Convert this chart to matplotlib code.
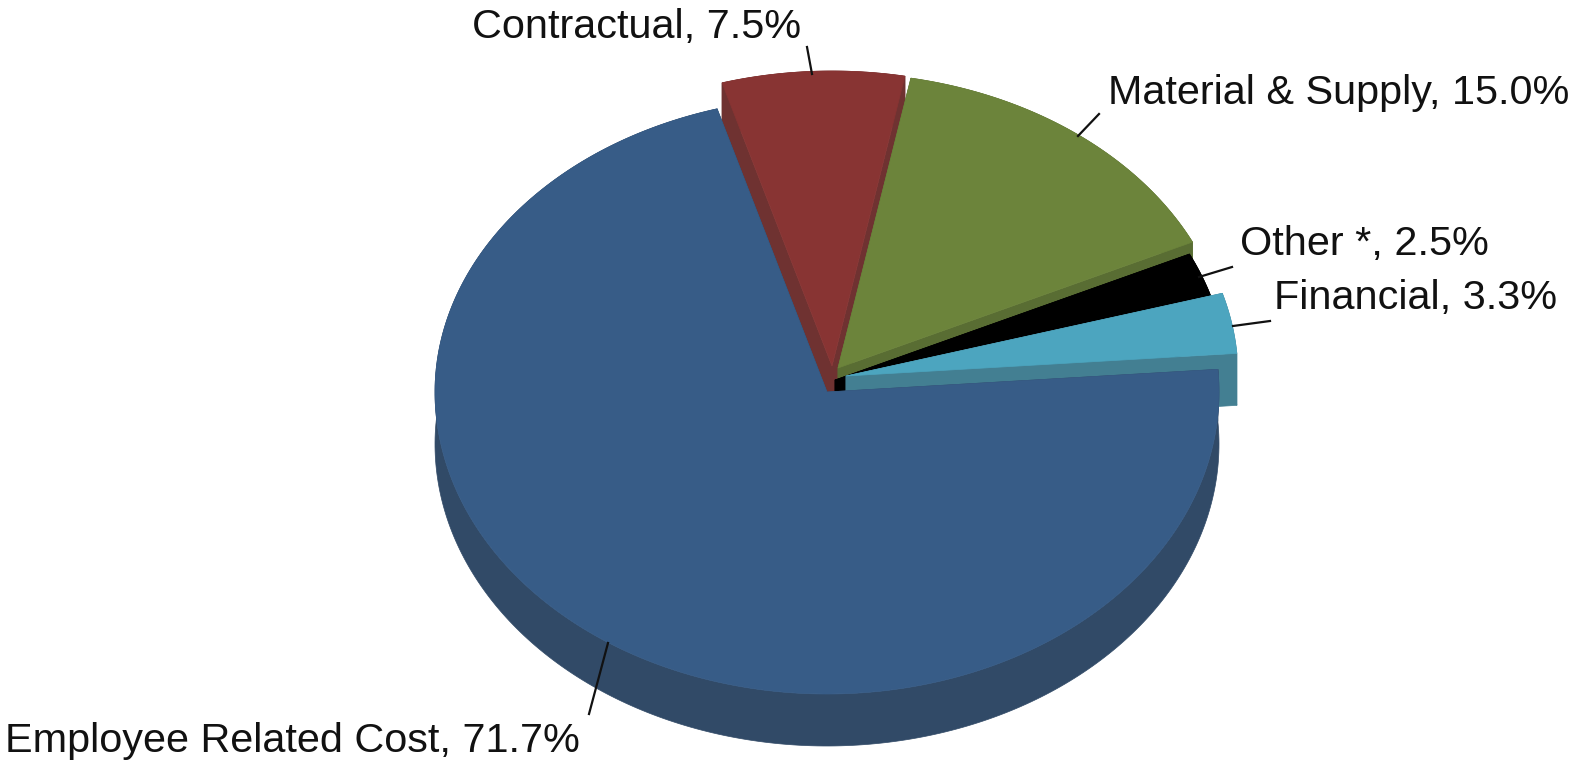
import numpy as np
import matplotlib
matplotlib.use('Agg')
import matplotlib.pyplot as plt
from matplotlib.patches import Polygon

plt.rcParams['font.family'] = ['Liberation Sans', 'DejaVu Sans']

# slices, clockwise starting from the right hand edge of the big one
categories = ['Employee Related Cost', 'Contractual', 'Material & Supply', 'Other *', 'Financial']
values = [71.7, 7.5, 15.0, 2.5, 3.3]

face_colors = ['#375c87', '#883433', '#6c843b', '#000000', '#4ca5bf']
wall_colors = ['#314a67', '#6f3231', '#596d33', '#000000', '#437f92']

# pie tip of each slice in pixels (exploded pie)
tips = [(827, 392), (832, 366), (838, 368), (835, 380), (846, 376)]
rx, ry_back, ry_front = 392, 295, 302
depth = 52
start_angle = 4.4

# label left edge / vertical centre, leader line start and end
label_pos = [(5, 741), (472, 27), (1108, 93), (1240, 244), (1274, 298)]
leaders = [((608, 643), (589, 714)), ((807, 47), (812, 74)), ((1099, 114), (1078, 136)),
           ((1232, 267), (1199, 277)), ((1270, 321), (1233, 326))]

fig = plt.figure(figsize=(15.72, 7.6), dpi=100)
ax = fig.add_axes([0, 0, 1, 1])
ax.set_xlim(0, 1572)
ax.set_ylim(760, 0)
ax.axis('off')

ends = start_angle - np.cumsum(values) * 3.6
starts = np.concatenate([[start_angle], ends[:-1]])


def arc(tip, a0, a1):
    t = np.radians(np.linspace(a0, a1, 300))
    s = np.sin(t)
    # back half of the pie is a bit flatter (perspective)
    return np.column_stack([tip[0] + rx * np.cos(t), tip[1] - np.where(s > 0, ry_back, ry_front) * s])


# big slice goes last, it sits in front of the walls of the others
order = [1, 2, 3, 4, 0]
for z, i in enumerate(order):
    tip = np.array(tips[i], dtype=float)
    edge = arc(tip, starts[i], ends[i])
    down = np.array([0, depth])

    walls = [np.vstack([edge, (edge + down)[::-1]]),
             np.array([tip, edge[0], edge[0] + down, tip + down]),
             np.array([tip, edge[-1], edge[-1] + down, tip + down])]
    for w in walls:
        ax.add_patch(Polygon(w, closed=True, fc=wall_colors[i], ec=wall_colors[i], lw=0.5, zorder=z + 2))
    ax.add_patch(Polygon(np.vstack([tip, edge]), closed=True, fc=face_colors[i], ec=face_colors[i],
                         lw=0.5, zorder=z + 2))

for i, name in enumerate(categories):
    ax.text(label_pos[i][0], label_pos[i][1], f'{name}, {values[i]:.1f}%', fontsize=29.8,
            color='#111111', ha='left', va='center', zorder=20)
    p, q = leaders[i]
    ax.plot([p[0], q[0]], [p[1], q[1]], color='#111111', lw=1.6, zorder=19)

fig.savefig('out.png', dpi=100)
